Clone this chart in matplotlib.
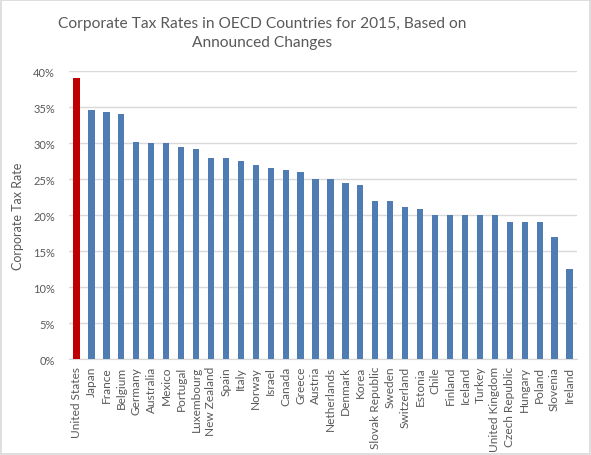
import matplotlib
matplotlib.use("Agg")
import matplotlib.pyplot as plt
from matplotlib.patches import Rectangle
from matplotlib.ticker import PercentFormatter

countries = ["United States", "Japan", "France", "Belgium", "Germany", "Australia",
             "Mexico", "Portugal", "Luxembourg", "New Zealand", "Spain", "Italy",
             "Norway", "Israel", "Canada", "Greece", "Austria", "Netherlands",
             "Denmark", "Korea", "Slovak Republic", "Sweden", "Switzerland", "Estonia",
             "Chile", "Finland", "Iceland", "Turkey", "United Kingdom", "Czech Republic",
             "Hungary", "Poland", "Slovenia", "Ireland"]
rates = [39.1, 34.6, 34.4, 34.0, 30.2, 30.0,
         30.0, 29.5, 29.2, 28.0, 28.0, 27.5,
         27.0, 26.5, 26.3, 26.0, 25.0, 25.0,
         24.5, 24.2, 22.0, 22.0, 21.1, 20.9,
         20.0, 20.0, 20.0, 20.0, 20.0, 19.0,
         19.0, 19.0, 17.0, 12.5]

plt.rcParams['font.family'] = ['Lato', 'DejaVu Sans']
grey = '#595959'

fig = plt.figure(figsize=(5.91, 4.56), dpi=100)
ax = fig.add_axes([0.1168, 0.2105, 0.8595, 0.6309])

colors = ['#c00000'] + ['#4f7db3'] * (len(countries) - 1)
ax.bar(range(len(countries)), [r / 100 for r in rates], width=0.42, color=colors, zorder=3)

ax.set_xlim(-0.5, len(countries) - 0.5)
ax.set_ylim(0, 0.4)
ax.set_yticks([i * 0.05 for i in range(9)])
ax.yaxis.set_major_formatter(PercentFormatter(1.0, decimals=0))
ax.grid(axis='y', color='#d9d9d9', linewidth=1, zorder=0)
for s in ['top', 'right', 'left']:
    ax.spines[s].set_visible(False)
ax.spines['bottom'].set_color('#d9d9d9')
ax.tick_params(length=0, colors=grey)
ax.tick_params(axis='y', pad=10, labelsize=8)
ax.tick_params(axis='x', pad=5, labelsize=8.6)
ax.set_xticks(range(len(countries)))
ax.set_xticklabels(countries, rotation=90)
ax.set_ylabel("Corporate Tax Rate", color=grey, fontsize=9, labelpad=7)

fig.suptitle("Corporate Tax Rates in OECD Countries for 2015, Based on\nAnnounced Changes",
             x=0.443, y=0.962, fontsize=11.2, color=grey, linespacing=1.45)

fig.patches.append(Rectangle((0.001, 0.002), 0.997, 0.996, transform=fig.transFigure,
                             fill=False, edgecolor='#d9d9d9', linewidth=1.2))

fig.savefig("out.png", dpi=100)
